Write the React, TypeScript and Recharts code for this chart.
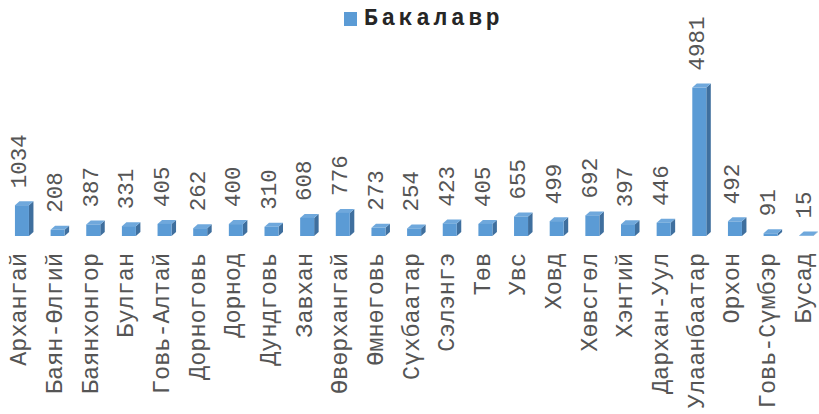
import { Bar, BarChart, LabelList, XAxis, YAxis } from "recharts";

const aimags = [
	"Архангай",
	"Баян-Өлгий",
	"Баянхонгор",
	"Булган",
	"Говь-Алтай",
	"Дорноговь",
	"Дорнод",
	"Дундговь",
	"Завхан",
	"Өвөрхангай",
	"Өмнөговь",
	"Сүхбаатар",
	"Сэлэнгэ",
	"Төв",
	"Увс",
	"Ховд",
	"Хөвсгөл",
	"Хэнтий",
	"Дархан-Уул",
	"Улаанбаатар",
	"Орхон",
	"Говь-Сүмбэр",
	"Бусад",
];
const bachelorCounts = [1034, 208, 387, 331, 405, 262, 400, 310, 608, 776, 273, 254, 423, 405, 655, 499, 692, 397, 446, 4981, 492, 91, 15];
const seriesName = "Бакалавр";

const data = aimags.map((name, i) => ({ name, value: bachelorCounts[i] }));

const FONT = "'Liberation Mono', 'DejaVu Sans Mono', monospace";
const FRONT = "#5B9BD5";
const SIDE = "#3F6F9E";
const TOP = "#6FA8DC";
const TEXT = "#555555";

// fake 3d column: front face + right side + top face
const Bar3D = (props: any) => {
	const { x, y, width, height } = props;
	const fx = x + 2;
	const dx = 4.5;
	const dy = 4;
	return (
		<g>
			<polygon
				points={`${fx + width},${y} ${fx + width + dx},${y - dy} ${fx + width + dx},${y + height - dy} ${fx + width},${y + height}`}
				fill={SIDE}
			/>
			<polygon points={`${fx},${y} ${fx + dx},${y - dy} ${fx + width + dx},${y - dy} ${fx + width},${y}`} fill={TOP} />
			<rect x={fx} y={y} width={width} height={Math.max(height, 0)} fill={FRONT} />
		</g>
	);
};

const CategoryTick = (props: any) => {
	const { x, y, payload } = props;
	return (
		<g transform={`translate(${x},${y + 17})`}>
			<text transform="rotate(-90)" textAnchor="end" dy="0.28em" fontFamily={FONT} fontSize={23.5} fill={TEXT}>
				{payload.value}
			</text>
		</g>
	);
};

const ValueLabel = (props: any) => {
	const { x, y, width, value } = props;
	return (
		<g transform={`translate(${x + width / 2},${y - 17})`}>
			<text transform="rotate(-90)" textAnchor="start" dy="0.28em" fontFamily={FONT} fontSize={22.5} fill={TEXT}>
				{value}
			</text>
		</g>
	);
};

export default function App() {
	return (
		<div style={{ position: "fixed", left: 0, top: 0, width: 819, height: 414, overflow: "hidden", background: "#fff" }}>
			<div
				style={{
					position: "absolute",
					left: 344,
					top: 6,
					display: "flex",
					alignItems: "center",
					fontFamily: FONT,
					fontWeight: "bold",
					fontSize: 23,
					letterSpacing: 3.6,
					color: "#262626",
				}}
			>
				<span style={{ display: "inline-block", width: 13, height: 14, background: FRONT, marginRight: 7 }} />
				<span>{seriesName}</span>
			</div>
			<BarChart width={830} height={414} data={data} margin={{ top: 57.2, right: 8.1, bottom: 0, left: 1.95 }}>
				<XAxis
					dataKey="name"
					interval={0}
					height={178}
					tickLine={false}
					axisLine={false}
					tickSize={0}
					tickMargin={0}
					tick={<CategoryTick />}
				/>
				<YAxis hide domain={[0, 6000]} />
				<Bar dataKey="value" name={seriesName} barSize={14} shape={<Bar3D />} isAnimationActive={false}>
					<LabelList dataKey="value" content={<ValueLabel />} />
				</Bar>
			</BarChart>
		</div>
	);
}
